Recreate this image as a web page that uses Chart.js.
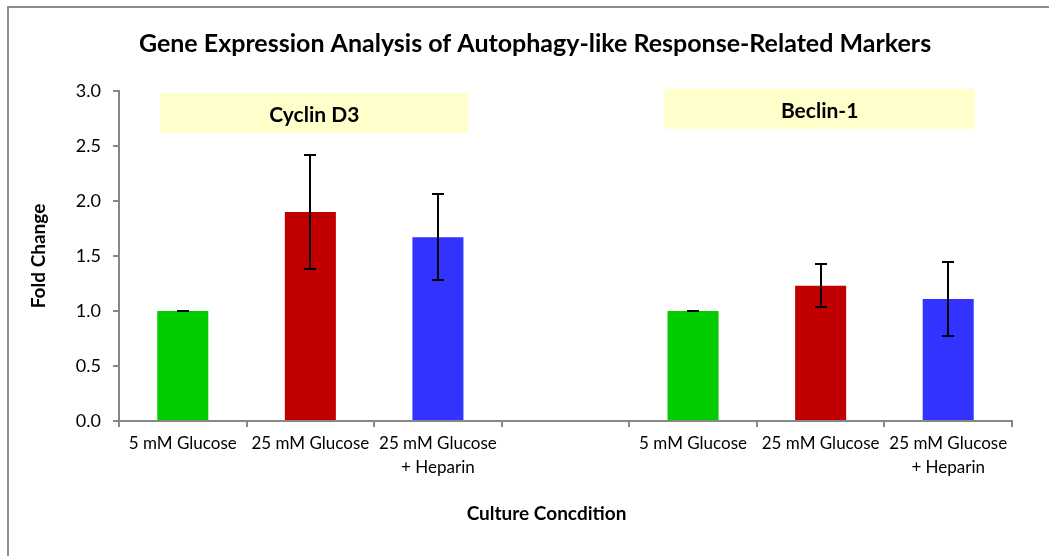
<!DOCTYPE html>
<html>
<head>
<meta charset="utf-8">
<script src="https://cdn.jsdelivr.net/npm/chart.js@4/dist/chart.umd.min.js"></script>
<style>
  html, body { margin: 0; padding: 0; background: #fff; overflow: hidden; }
  #wrap { position: relative; width: 1049px; height: 556px; }
  #frame { position: absolute; left: 7px; top: 6px; width: 1060px; height: 570px;
           border-left: 2px solid #8c8c8c; border-top: 2px solid #8c8c8c; }
  canvas { position: absolute; left: 0; top: 0; }
</style>
</head>
<body>
<div id="wrap">
  <div id="frame"></div>
  <canvas id="chart" width="1049" height="556"></canvas>
</div>
<script>
// Chart data
const categories = [
  '5 mM Glucose', '25 mM Glucose', ['25 mM Glucose', '+ Heparin'],
  '',
  '5 mM Glucose', '25 mM Glucose', ['25 mM Glucose', '+ Heparin']
];
const foldChange = [1.0, 1.9, 1.67, null, 1.0, 1.23, 1.11];
const errors = [0.003, 0.52, 0.39, null, 0.003, 0.195, 0.335];
const barColors = ['#00cc00', '#c00000', '#3333ff', '#ffffff', '#00cc00', '#c00000', '#3333ff'];
const markerGroups = ['Cyclin D3', 'Beclin-1'];
const groupRange = [[0, 2], [4, 6]];
const yTicks = [0, 0.5, 1, 1.5, 2, 2.5, 3];

const FONT = 'Lato, "Open Sans", sans-serif';

// Error bars drawn from the bar elements and the y scale
const errorBarPlugin = {
    id: 'errorBars',
    afterDatasetsDraw(chart) {
        const ctx = chart.ctx;
        const y = chart.scales.y;
        const meta = chart.getDatasetMeta(0);
        ctx.save();
        ctx.strokeStyle = '#000';
        ctx.lineWidth = 2;
        meta.data.forEach((bar, i) => {
            const v = foldChange[i];
            const e = errors[i];
            if (v == null || e == null) return;
            const top = Math.round(y.getPixelForValue(v + e));
            const bot = Math.round(y.getPixelForValue(v - e));
            const x = Math.round(bar.x);
            ctx.beginPath();
            ctx.moveTo(x, top);
            ctx.lineTo(x, bot);
            ctx.moveTo(x - 6, top);
            ctx.lineTo(x + 6, top);
            ctx.moveTo(x - 6, bot);
            ctx.lineTo(x + 6, bot);
            ctx.stroke();
        });
        ctx.restore();
    }
};

// Yellow label boxes above each group of bars
const groupLabelPlugin = {
    id: 'groupLabels',
    afterDatasetsDraw(chart) {
        const ctx = chart.ctx;
        const y = chart.scales.y;
        const meta = chart.getDatasetMeta(0);
        const boxTop = [2.98, 3.02];
        const edge = [[3, 5], [-3, 1]];
        ctx.save();
        markerGroups.forEach((label, k) => {
            const a = meta.data[groupRange[k][0]];
            const b = meta.data[groupRange[k][1]];
            const left = a.x - a.width / 2 + edge[k][0];
            const right = b.x + b.width / 2 + edge[k][1];
            const top = y.getPixelForValue(boxTop[k]);
            const bottom = top + 40;
            ctx.fillStyle = '#ffffcc';
            ctx.fillRect(left, top, right - left, bottom - top);
            ctx.fillStyle = '#000';
            ctx.font = 'bold 21px ' + FONT;
            ctx.textAlign = 'center';
            ctx.textBaseline = 'middle';
            ctx.fillText(label, (left + right) / 2, (top + bottom) / 2 + 2);
        });
        ctx.restore();
    }
};

// X axis caption, placed a little left of the plot centre as in the original
const xCaptionPlugin = {
    id: 'xCaption',
    afterDraw(chart) {
        const ctx = chart.ctx;
        const x = chart.scales.x;
        ctx.save();
        ctx.fillStyle = '#000';
        ctx.font = 'bold 19px ' + FONT;
        ctx.textAlign = 'center';
        ctx.textBaseline = 'middle';
        ctx.fillText('Culture Concdition', (x.left + x.right) / 2 - 19, x.bottom - 22);
        ctx.restore();
    }
};

new Chart(document.getElementById('chart'), {
    type: 'bar',
    data: {
        labels: categories,
        datasets: [{
            data: foldChange,
            backgroundColor: barColors,
            borderWidth: 0,
            barPercentage: 0.4,
            categoryPercentage: 1.0
        }]
    },
    options: {
        responsive: false,
        animation: false,
        events: [],
        layout: { padding: { left: 58, right: 37, top: 10, bottom: 20 } },
        plugins: {
            legend: { display: false },
            tooltip: { enabled: false },
            title: {
                display: true,
                text: 'Gene Expression Analysis of Autophagy-like Response-Related Markers',
                color: '#000',
                font: { family: FONT, size: 25, weight: 'bold' },
                padding: { top: 19, bottom: 32 }
            }
        },
        scales: {
            x: {
                afterFit(scale) { scale.height = 115; },
                grid: { drawOnChartArea: false, drawTicks: true, tickLength: 6, color: '#888', lineWidth: 2 },
                border: { color: '#888', width: 2 },
                ticks: {
                    color: '#000',
                    font: { family: FONT, size: 17, lineHeight: 1.4 },
                    maxRotation: 0, autoSkip: false, padding: 5
                }
            },
            y: {
                min: 0,
                max: 3,
                afterFit(scale) { scale.width = 61; },
                afterBuildTicks(scale) {
                    scale.ticks = yTicks.map(v => ({ value: v }));
                },
                grid: { drawOnChartArea: false, drawTicks: true, tickLength: 6, color: '#888', lineWidth: 2 },
                border: { color: '#888', width: 2 },
                ticks: {
                    color: '#000',
                    font: { family: FONT, size: 18 },
                    padding: 12,
                    callback: v => v.toFixed(1)
                },
                title: {
                    display: true,
                    text: 'Fold Change',
                    color: '#000',
                    font: { family: FONT, size: 19, weight: 'bold' },
                    padding: { top: -31, bottom: 0 }
                }
            }
        }
    },
    plugins: [errorBarPlugin, groupLabelPlugin, xCaptionPlugin]
});
</script>
</body>
</html>
